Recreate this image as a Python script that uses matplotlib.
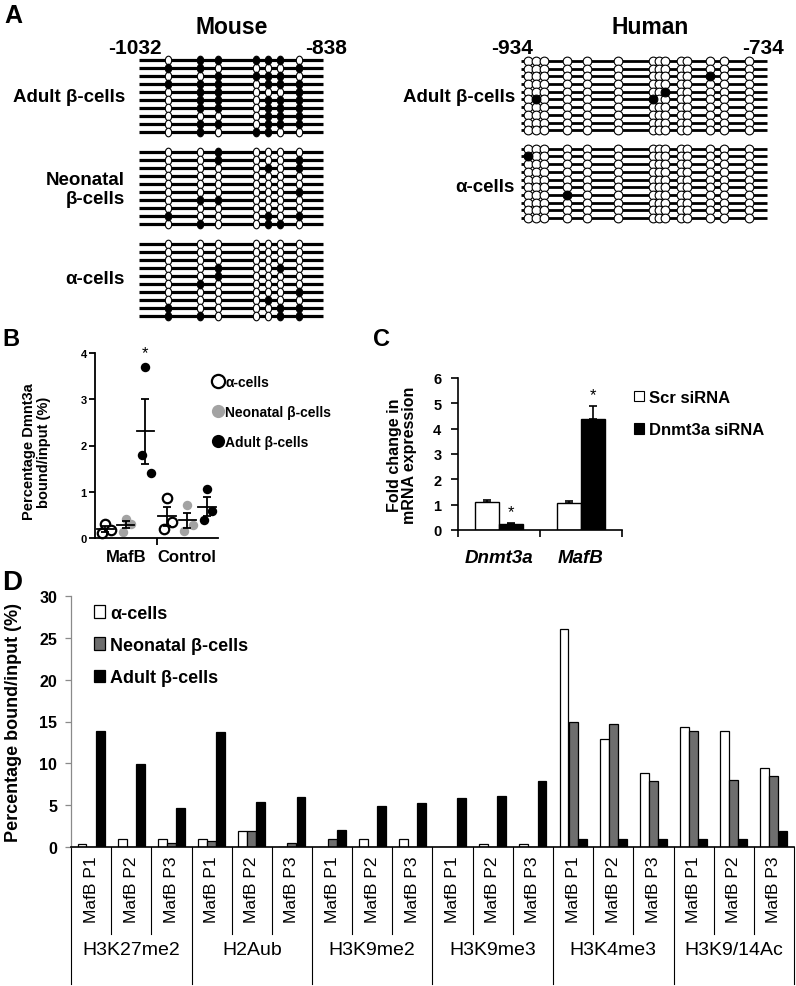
import numpy as np
import matplotlib
matplotlib.use("Agg")
import matplotlib.pyplot as plt
from matplotlib.lines import Line2D
from matplotlib.patches import Patch
from matplotlib.path import Path
from matplotlib.transforms import Affine2D, blended_transform_factory

plt.rcParams['font.family'] = ['Liberation Sans', 'DejaVu Sans']
plt.rcParams['font.weight'] = 'bold'
plt.rcParams['axes.labelweight'] = 'bold'

W, H = 796, 987

# ---- A: bisulfite reads, "1" = methylated CpG ----
mouse_span = [-1032, -838]
mouse_cpg = [-1001, -968, -949, -909, -896, -883, -863]
mouse_adult = ["0111110", "1100001", "0011110", "1110111", "0110001",
               "0110111", "0110111", "0000111", "0110111", "0101100"]
mouse_neonatal = ["0010000", "0010001", "0000101", "0000000", "0000000",
                  "0000001", "0110000", "0000000", "1000101", "0100110"]
mouse_alpha = ["0000000", "0000000", "0000000", "0010010", "0010000",
               "0100000", "0000001", "0000100", "1000011", "1100011"]

human_span = [-934, -734]
human_cpg = [-928, -922, -915, -897, -880, -855, -827, -822, -817, -804,
             -799, -780, -769, -749]
human_adult = ["00000000000000", "00000000000000", "00000000000100",
               "00000000000000", "00000000100000", "01000010000000",
               "00000000000000", "00000000000000", "00000000000000",
               "00000000000000"]
human_alpha = ["00000000000000", "10000000000000", "00000000000000",
               "00000000000000", "00000000000000", "00000000000000",
               "00010000000000", "00000000000000", "00000000000000",
               "00000000000000"]

# ---- B: Dnmt3a ChIP, three replicates per group ----
b_groups = ["MafB", "Control"]
b_alpha = [[0.30, 0.10, 0.18], [0.86, 0.19, 0.35]]
b_neonatal = [[0.42, 0.14, 0.30], [0.71, 0.16, 0.28]]
b_adult = [[3.70, 1.80, 1.41], [1.06, 0.39, 0.59]]
b_jitter = [0.0, -0.05, 0.09]

# ---- C: siRNA knockdown ----
c_genes = ["Dnmt3a", "MafB"]
c_scr = [1.12, 1.07]
c_scr_err = [0.05, 0.07]
c_sirna = [0.25, 4.40]
c_sirna_err = [0.04, 0.50]

# ---- D: histone marks ChIP ----
d_marks = ["H3K27me2", "H2Aub", "H3K9me2", "H3K9me3", "H3K4me3", "H3K9/14Ac"]
d_regions = ["MafB P1", "MafB P2", "MafB P3"]
d_alpha = [0.4, 1.0, 1.0, 1.0, 1.9, 0.0, 0.0, 1.0, 0.9, 0.05, 0.4, 0.4,
           26.0, 12.9, 8.9, 14.4, 13.9, 9.4]
d_neonatal = [0.0, 0.0, 0.5, 0.7, 1.9, 0.5, 1.0, 0.0, 0.0, 0.0, 0.0, 0.0,
              14.9, 14.7, 7.9, 13.9, 8.05, 8.45]
d_adult = [13.9, 9.9, 4.7, 13.7, 5.4, 5.95, 2.0, 4.9, 5.2, 5.9, 6.15, 7.85,
           0.9, 0.9, 0.9, 0.9, 0.9, 1.9]

fig = plt.figure(figsize=(W / 100, H / 100), dpi=100)


def box(left, top, right, bottom):
    return fig.add_axes([left / W, 1 - bottom / H, (right - left) / W, (bottom - top) / H])


def label(x, y, s, **kw):
    kw.setdefault("va", "center")
    fig.text(x / W, 1 - y / H, s, **kw)


def reads(ax, span, cpg, rows, start, ms, marker, lw):
    x = np.array(cpg)
    for i, row in enumerate(rows):
        y = start + i
        meth = np.array([c == "1" for c in row])
        ax.plot(span, [y, y], color="black", lw=lw, solid_capstyle="butt", zorder=1, clip_on=False)
        ax.plot(x[~meth], np.full((~meth).sum(), y), ls="none", marker=marker, ms=ms,
                mfc="white", mec="black", mew=0.8, zorder=2, clip_on=False)
        ax.plot(x[meth], np.full(meth.sum(), y), ls="none", marker=marker, ms=ms,
                mfc="black", mec="black", mew=0.8, zorder=3, clip_on=False)


# panel A
oval = Path.unit_circle().transformed(Affine2D().scale(0.74, 1.0))
axm = box(139, 55, 323, 323)
axm.set_xlim(*mouse_span)
axm.set_ylim(32.75, -0.75)
axm.axis("off")
for rows, start in [(mouse_adult, 0), (mouse_neonatal, 11.5), (mouse_alpha, 23)]:
    reads(axm, mouse_span, mouse_cpg, rows, start, 6.2, oval, 2.3)

axh = box(521, 56, 767, 225)
axh.set_xlim(*human_span)
axh.set_ylim(21.1, -0.75)
axh.axis("off")
for rows, start in [(human_adult, 0), (human_alpha, 11.35)]:
    reads(axh, human_span, human_cpg, rows, start, 6.3, "o", 2.0)

label(4, 16, "A", fontsize=18)
label(232, 27, "Mouse", ha="center", fontsize=16.5)
label(135, 48, str(mouse_span[0]), ha="center", fontsize=15)
label(326, 48, str(mouse_span[1]), ha="center", fontsize=15)
label(650, 27, "Human", ha="center", fontsize=16.5)
label(512, 48, str(human_span[0]), ha="center", fontsize=15)
label(763, 48, str(human_span[1]), ha="center", fontsize=15)
label(125, 98, "Adult β-cells", ha="right", fontsize=13.5)
label(125, 190, "Neonatal\nβ-cells", ha="right", fontsize=13.5, linespacing=1.15)
label(125, 280, "α-cells", ha="right", fontsize=13.5)
label(515, 98, "Adult β-cells", ha="right", fontsize=13.5)
label(515, 188, "α-cells", ha="right", fontsize=13.5)

# panel B
label(2, 340, "B", fontsize=17)
axb = box(95, 354, 218, 539)
styles_b = [("α-cells", b_alpha, -0.33, dict(mfc="white", mec="black", mew=1.6)),
            ("Neonatal β-cells", b_neonatal, 0.0, dict(mfc="#a3a3a3", mec="#a3a3a3", mew=0)),
            ("Adult β-cells", b_adult, 0.32, dict(mfc="black", mec="black", mew=0))]
for name, vals, off, st in styles_b:
    for g, pts in enumerate(vals):
        pts = np.array(pts)
        xc = g + 0.5 + off
        axb.plot(xc + np.array(b_jitter), pts, ls="none", marker="o", ms=6.8, clip_on=False, zorder=2, **st)
        m = pts.mean()
        s = pts.std(ddof=1) / np.sqrt(len(pts))
        axb.plot([xc - 0.14, xc + 0.14], [m, m], color="black", lw=1.3, zorder=3)
        axb.errorbar(xc, m, yerr=s, fmt="none", ecolor="black", elinewidth=1.3,
                     capsize=3, capthick=1.3, zorder=3)
top = np.array(b_adult[0])
axb.text(0.5 + 0.32, top.max() + 0.15, "*", ha="center", va="bottom", fontsize=12, fontweight="normal")
axb.set_xlim(0, 2)
axb.set_ylim(0, 4)
axb.spines[["top", "right"]].set_visible(False)
for sp in axb.spines.values():
    sp.set_linewidth(1.3)
axb.set_yticks([0, 1, 2, 3, 4])
axb.tick_params(axis="y", length=4, width=1.3, pad=2, labelsize=8)
axb.set_xticks([1])
axb.set_xticklabels([])
axb.set_xticks([0.5, 1.5], minor=True)
axb.set_xticklabels(b_groups, minor=True, fontsize=12)
axb.tick_params(axis="x", which="major", length=5, width=1.3)
axb.tick_params(axis="x", which="minor", length=0, pad=8)
axb.set_ylabel("Percentage Dmnt3a\nbound/input (%)", fontsize=10.5, linespacing=1.05)
axb.yaxis.set_label_coords(-0.36, 0.47)
hb = [Line2D([], [], ls="none", marker="o", ms=9.5, **st) for _, _, _, st in styles_b]
fig.legend(hb, [n for n, _, _, _ in styles_b], loc="upper left", bbox_to_anchor=(212 / W, 1 - 376 / H),
           frameon=False, fontsize=10, handlelength=0.8, handletextpad=0.15, labelspacing=1.15,
           borderpad=0, borderaxespad=0)

# panel C
label(373, 340, "C", fontsize=17)
axc = box(458, 379, 622, 531)
xc = np.arange(len(c_genes)) + 0.5
w = 0.29
ekw = dict(ecolor="black", elinewidth=1.2, capsize=3, capthick=1.2)
axc.bar(xc - w / 2, c_scr, w, yerr=[np.zeros(len(c_scr)), c_scr_err], color="white",
        edgecolor="black", lw=1, error_kw=ekw)
axc.bar(xc + w / 2, c_sirna, w, yerr=[np.zeros(len(c_sirna)), c_sirna_err], color="black",
        edgecolor="black", lw=1, error_kw=ekw)
for xi, v, e in zip(xc + w / 2, c_sirna, c_sirna_err):
    axc.text(xi, v + e + 0.15, "*", ha="center", va="bottom", fontsize=12, fontweight="normal")
axc.set_xlim(0, 2)
axc.set_ylim(0, 6)
axc.spines[["top", "right"]].set_visible(False)
for sp in axc.spines.values():
    sp.set_linewidth(1.2)
axc.set_yticks(range(7))
axc.tick_params(axis="y", length=5, width=1.2, pad=7, labelsize=10.5)
axc.set_xticks([0, 1, 2])
axc.set_xticklabels([])
axc.set_xticks(xc, minor=True)
axc.set_xticklabels(c_genes, minor=True, fontsize=13.5, style="italic")
axc.tick_params(axis="x", which="major", length=5, width=1.2)
axc.tick_params(axis="x", which="minor", length=0, pad=14)
axc.set_ylabel("Fold change in\nmRNA expression", fontsize=11.5, linespacing=1.0)
axc.yaxis.set_label_coords(-0.25, 0.5)
hc = [Patch(facecolor="white", edgecolor="black", lw=0.8), Patch(facecolor="black", edgecolor="black", lw=0.8)]
fig.legend(hc, ["Scr siRNA", "Dnmt3a siRNA"], loc="upper left", bbox_to_anchor=(634 / W, 1 - 391 / H),
           frameon=False, fontsize=12, handlelength=0.6, handleheight=0.6, handletextpad=0.3,
           labelspacing=1.05, borderpad=0, borderaxespad=0)

# panel D
label(2, 583, "D", fontsize=20)
axd = box(71, 597, 794, 848)
x = np.arange(len(d_alpha))
bw = 0.22
axd.bar(x - 0.225, d_alpha, bw, color="white", edgecolor="black", lw=0.9, label="α-cells")
axd.bar(x, d_neonatal, bw, color="#6e6e6e", edgecolor="black", lw=0.9, label="Neonatal β-cells")
axd.bar(x + 0.225, d_adult, bw, color="black", edgecolor="black", lw=0.9, label="Adult β-cells")
axd.set_xlim(-0.5, len(x) - 0.5)
axd.set_ylim(0, 30)
axd.spines[["top", "right"]].set_visible(False)
axd.spines["left"].set_color("#8a8a8a")
axd.spines["left"].set_linewidth(0.9)
axd.spines["bottom"].set_linewidth(1.2)
axd.set_yticks(range(0, 31, 5))
axd.tick_params(axis="y", length=4, width=0.9, color="#8a8a8a", pad=6, labelsize=11.5)
ticklabels = [r for m in d_marks for r in d_regions]
axd.set_xticks(x)
axd.set_xticklabels(ticklabels, rotation=90, fontsize=12.5, fontweight="normal")
axd.tick_params(axis="x", length=0, pad=6)
tr = blended_transform_factory(axd.transData, axd.transAxes)
for gi, mk in enumerate(d_marks):
    axd.text(gi * 3 + 1, -0.41, mk, transform=tr, ha="center", va="center", fontsize=14, fontweight="normal")
for k in range(len(x) + 1):
    ylow = -0.546 if k % 3 == 0 else -0.347
    axd.plot([k - 0.5, k - 0.5], [0, ylow], transform=tr, color="black", lw=0.8, clip_on=False)
axd.set_ylabel("Percentage bound/input (%)", fontsize=13)
axd.yaxis.set_label_coords(-0.068, 0.5)
axd.legend(loc="upper left", bbox_to_anchor=(0.032, 0.965), frameon=False, fontsize=13,
           handlelength=0.6, handleheight=0.7, handletextpad=0.3, labelspacing=0.85,
           borderpad=0, borderaxespad=0)

fig.savefig("out.png", dpi=100)
